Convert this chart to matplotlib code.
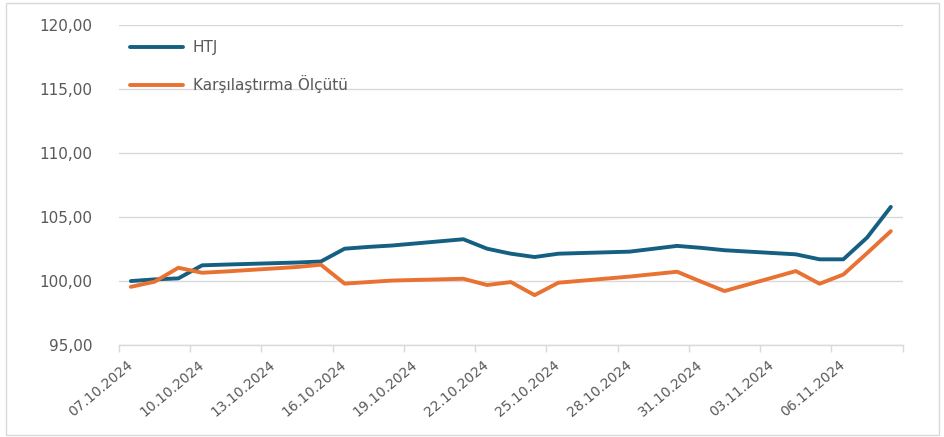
import matplotlib
matplotlib.use("Agg")
import matplotlib.pyplot as plt
import matplotlib.dates as mdates
from matplotlib.patches import Rectangle
from matplotlib.ticker import FuncFormatter, FixedLocator
import pandas as pd

# business days shown in the chart (29.10 is a holiday, no value)
dates = [
    "07.10.2024", "08.10.2024", "09.10.2024", "10.10.2024", "11.10.2024",
    "14.10.2024", "15.10.2024", "16.10.2024", "17.10.2024", "18.10.2024",
    "21.10.2024", "22.10.2024", "23.10.2024", "24.10.2024", "25.10.2024",
    "28.10.2024", "30.10.2024", "31.10.2024", "01.11.2024",
    "04.11.2024", "05.11.2024", "06.11.2024", "07.11.2024", "08.11.2024",
]
htj = [
    100.00, 100.13, 100.21, 101.23, 101.29,
    101.45, 101.53, 102.53, 102.67, 102.78,
    103.27, 102.53, 102.14, 101.88, 102.14,
    102.30, 102.75, 102.60, 102.41,
    102.09, 101.70, 101.70, 103.40, 105.80,
]
benchmark = [
    99.55, 99.95, 101.04, 100.65, 100.75,
    101.10, 101.28, 99.80, 99.92, 100.04,
    100.18, 99.69, 99.92, 98.90, 99.87,
    100.35, 100.73, 99.96, 99.22,
    100.78, 99.79, 100.51, 102.18, 103.90,
]
series_names = ["HTJ", "Karşılaştırma Ölçütü"]
tick_dates = [
    "07.10.2024", "10.10.2024", "13.10.2024", "16.10.2024", "19.10.2024",
    "22.10.2024", "25.10.2024", "28.10.2024", "31.10.2024", "03.11.2024",
    "06.11.2024",
]
y_ticks = [95, 100, 105, 110, 115, 120]

BLUE = "#156082"
ORANGE = "#E97132"
TEXT = "#595959"
GRID = "#D9D9D9"

plt.rcParams["font.family"] = ["DejaVu Sans"]

x = mdates.date2num(pd.to_datetime(dates, format="%d.%m.%Y"))
label_x = mdates.date2num(pd.to_datetime(tick_dates, format="%d.%m.%Y"))
first, last = x[0], x[-1]
boundaries = [first - 0.5 + 3 * k for k in range(int((last - first + 1) // 3) + 1)]

fig = plt.figure(figsize=(9.44, 4.37), dpi=100)
ax = fig.add_axes([119 / 944, 1 - 345 / 437, (902.7 - 119) / 944, (345 - 25.3) / 437])

ax.plot(x, htj, color=BLUE, lw=2.8, solid_capstyle="round", solid_joinstyle="round",
        label=series_names[0], zorder=3)
ax.plot(x, benchmark, color=ORANGE, lw=2.8, solid_capstyle="round", solid_joinstyle="round",
        label=series_names[1], zorder=3)

ax.set_xlim(first - 0.5, last + 0.5)
ax.set_ylim(95, 120)
ax.set_yticks(y_ticks)
ax.yaxis.set_major_formatter(FuncFormatter(lambda v, _: f"{v:.2f}".replace(".", ",")))
ax.grid(axis="y", color=GRID, lw=1)
ax.set_axisbelow(True)

ax.xaxis.set_major_locator(FixedLocator(label_x))
ax.xaxis.set_major_formatter(mdates.DateFormatter("%d.%m.%Y"))
ax.xaxis.set_minor_locator(FixedLocator(boundaries))
ax.tick_params(axis="x", which="major", length=0, pad=13, labelsize=10, labelcolor=TEXT)
ax.tick_params(axis="x", which="minor", length=5, width=1, color=GRID, direction="out")
ax.tick_params(axis="y", length=0, pad=19, labelsize=11, labelcolor=TEXT)
for lab in ax.get_xticklabels():
    lab.set_rotation(40)
    lab.set_ha("right")
    lab.set_va("center")
    lab.set_rotation_mode("anchor")

for side in ["top", "right", "left"]:
    ax.spines[side].set_visible(False)
ax.spines["bottom"].set_color(GRID)
ax.spines["bottom"].set_linewidth(1)

ax.legend(loc="upper left", bbox_to_anchor=(130 / 944, 1 - 40 / 437),
          bbox_transform=fig.transFigure, frameon=False, fontsize=11,
          labelcolor=TEXT, handlelength=3.5, handletextpad=0.6,
          labelspacing=1.3, borderpad=0, borderaxespad=0)

fig.patches.append(Rectangle((6 / 944, 2 / 437), 933 / 944, 432 / 437,
                             transform=fig.transFigure, fill=False,
                             edgecolor=GRID, lw=1))

fig.savefig("out.png", dpi=100)
